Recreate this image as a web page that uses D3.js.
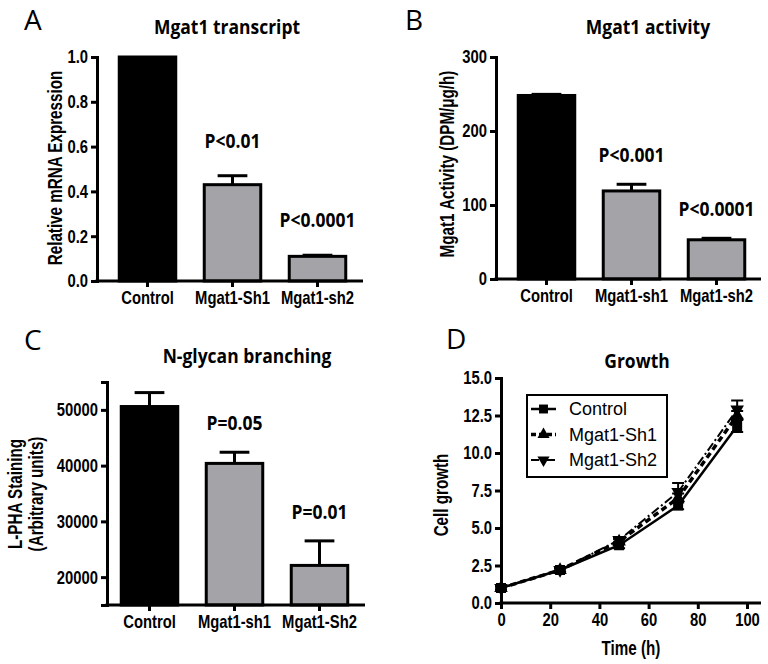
<!DOCTYPE html>
<html>
<head>
<meta charset="utf-8">
<script src="https://cdn.jsdelivr.net/npm/d3@7"></script>
<style>
  body { margin: 0; background: #fff; }
  .narrow { font-family: "Liberation Sans", Arial, sans-serif; font-weight: bold; }
  .title { font-family: "Open Sans", "Noto Sans", sans-serif; font-weight: bold; }
  .letter { font-family: "Open Sans", "Noto Sans", sans-serif; }
</style>
</head>
<body>
<svg id="svg" width="768" height="664"></svg>
<script>
// A - transcript
const catsA = ["Control", "Mgat1-Sh1", "Mgat1-sh2"];
const meanA = [1.0, 0.43, 0.11];
const errA = [0, 0.04, 0.005];
const pA = ["", "P<0.01", "P<0.0001"];
// B - activity
const catsB = ["Control", "Mgat1-sh1", "Mgat1-sh2"];
const meanB = [248, 119, 53];
const errB = [1.5, 9, 2];
const pB = ["", "P<0.001", "P<0.0001"];
// C - branching
const catsC = ["Control", "Mgat1-sh1", "Mgat1-Sh2"];
const meanC = [50600, 40400, 22100];
const errC = [2500, 2000, 4400];
const pC = ["", "P=0.05", "P=0.01"];
// D - growth
const hours = [0, 24, 48, 72, 96];
const ctrlGrowth = [1.0, 2.2, 3.85, 6.5, 11.8];
const ctrlErr = [0.1, 0.1, 0.2, 0.25, 0.4];
const sh1Growth = [1.0, 2.2, 4.1, 7.0, 12.5];
const sh1Err = [0.1, 0.1, 0.15, 0.3, 0.3];
const sh2Growth = [1.0, 2.2, 4.2, 7.4, 12.9];
const sh2Err = [0.1, 0.1, 0.15, 0.6, 0.6];

const svg = d3.select("#svg");
const gray = "#a4a4a8";
const sq = 0.8;   // horizontal squeeze for tick labels (fake narrow font)
const asq = 0.78; // squeeze for axis titles
const tsq = 0.92; // squeeze for titles

function styleAxis(g, left) {
  g.selectAll("path, line").attr("stroke", "#000").attr("stroke-width", 3);
  const t = g.selectAll("text").attr("class", "narrow").attr("font-size", 18.5).attr("fill", "#000")
    .attr("transform", `scale(${sq},1)`);
  if (left) t.attr("x", -9 / sq);
}

function narrowText(parent, x, y, rot, txt) {
  return parent.append("text").attr("class", "narrow").attr("font-size", 19.5)
    .attr("text-anchor", "middle")
    .attr("transform", `translate(${x},${y}) rotate(${rot}) scale(${asq},1)`)
    .text(txt);
}

function titleText(parent, x, y, txt, size) {
  return parent.append("text").attr("class", "title").attr("font-size", size || 19)
    .attr("text-anchor", "middle")
    .attr("transform", `translate(${x},${y}) scale(${tsq},1)`)
    .text(txt);
}

function barPanel(p) {
  const y = d3.scaleLinear().domain(p.domain).range([p.yBot, p.yTop]);
  const x = d3.scaleBand().domain(p.cats)
    .range([p.x0 + p.inset, p.x0 + p.inset + 255])
    .paddingInner(0.3).paddingOuter(0.15);
  const g = svg.append("g");

  const bw = x.bandwidth();
  const data = p.cats.map((c, i) => ({ c, m: p.means[i], e: p.errs[i], p: p.pv[i] }));

  // error bars (upper only)
  data.forEach(d => {
    if (!d.e) return;
    const cx = x(d.c) + bw / 2;
    g.append("line").attr("x1", cx).attr("x2", cx)
      .attr("y1", y(d.m)).attr("y2", y(d.m + d.e))
      .attr("stroke", "#000").attr("stroke-width", 3);
    g.append("line").attr("x1", cx - bw / 4).attr("x2", cx + bw / 4)
      .attr("y1", y(d.m + d.e)).attr("y2", y(d.m + d.e))
      .attr("stroke", "#000").attr("stroke-width", 3);
  });

  g.selectAll("rect").data(data).enter().append("rect")
    .attr("x", d => x(d.c) + 1.5)
    .attr("width", bw - 3)
    .attr("y", d => y(d.m))
    .attr("height", d => p.yBot - y(d.m))
    .attr("fill", (d, i) => i === 0 ? "#000" : gray)
    .attr("stroke", "#000").attr("stroke-width", 3);

  data.filter(d => d.p).forEach(d => {
    titleText(g, x(d.c) + bw / 2, y(d.m + d.e) - p.pOff, d.p, 19);
  });

  const ya = g.append("g").attr("transform", `translate(${p.x0},0)`)
    .call(d3.axisLeft(y).tickValues(p.ticks).tickFormat(p.fmt).tickSizeOuter(0).tickSize(6).tickPadding(3));
  styleAxis(ya, true);

  const xa = g.append("g").attr("transform", `translate(0,${p.yBot})`)
    .call(d3.axisBottom(x).tickSizeOuter(0).tickSize(6).tickPadding(4));
  xa.select(".domain").remove();
  styleAxis(xa, false);
  g.append("line").attr("x1", p.x0 - 1.5).attr("x2", p.x1)
    .attr("y1", p.yBot).attr("y2", p.yBot)
    .attr("stroke", "#000").attr("stroke-width", 3);

  if (p.ytitle.length === 1) {
    narrowText(g, p.ytx, p.yty, -90, p.ytitle[0]).attr("dy", "0.35em");
  } else {
    p.ytitle.forEach((t, i) => {
      narrowText(g, p.ytx + (i - 0.5) * 21, p.yty, -90, t).attr("dy", "0.35em");
    });
  }

  titleText(g, p.tx, p.ty, p.title);
  g.append("text").attr("class", "letter").attr("font-size", 28)
    .attr("x", p.lx).attr("y", p.ly).text(p.letter);
}

barPanel({
  cats: catsA, means: meanA, errs: errA, pv: pA, domain: [0, 1], ticks: [0, 0.2, 0.4, 0.6, 0.8, 1.0],
  fmt: d3.format(".1f"), x0: 97, x1: 363, inset: 8, yTop: 57, yBot: 281, pOff: 28,
  ytitle: ["Relative mRNA Expression"], ytx: 55, yty: 168,
  title: "Mgat1 transcript", tx: 227, ty: 34, letter: "A", lx: 24, ly: 30
});
barPanel({
  cats: catsB, means: meanB, errs: errB, pv: pB, domain: [0, 300], ticks: [0, 100, 200, 300],
  fmt: d3.format("d"), x0: 496, x1: 761, inset: 8, yTop: 57, yBot: 279, pOff: 22,
  ytitle: ["Mgat1 Activity (DPM/\u03bcg/h)"], ytx: 447, yty: 164,
  title: "Mgat1 activity", tx: 648, ty: 34, letter: "B", lx: 405, ly: 30
});
barPanel({
  cats: catsC, means: meanC, errs: errC, pv: pC, domain: [15000, 55000], ticks: [20000, 30000, 40000, 50000],
  fmt: d3.format("d"), x0: 107, x1: 365, inset: 0, yTop: 382, yBot: 605, pOff: 22,
  ytitle: ["L-PHA Staining", "(Arbitrary units)"], ytx: 26, yty: 494,
  title: "N-glycan branching", tx: 247, ty: 363, letter: "C", lx: 24, ly: 350
});

// D - growth curves
(function () {
  const x0 = 501, xEnd = 761, yTop = 378, yBot = 603;
  const x = d3.scaleLinear().domain([0, 100]).range([x0, 747]);
  const y = d3.scaleLinear().domain([0, 15]).range([yBot, yTop]);
  const g = svg.append("g");

  const series = [
    { name: "Control", vals: ctrlGrowth, err: ctrlErr, dash: null, w: 2.5, sym: d3.symbolSquare, size: 100, rot: 0 },
    { name: "Mgat1-Sh1", vals: sh1Growth, err: sh1Err, dash: "6,4", w: 3.5, sym: d3.symbolTriangle, size: 80, rot: 0 },
    { name: "Mgat1-Sh2", vals: sh2Growth, err: sh2Err, dash: "9,3,2,3", w: 2, sym: d3.symbolTriangle, size: 80, rot: 180 }
  ];
  const line = d3.line().x((d, i) => x(hours[i])).y(d => y(d));

  series.forEach(s => {
    g.append("path").datum(s.vals).attr("d", line)
      .attr("fill", "none").attr("stroke", "#000").attr("stroke-width", s.w)
      .attr("stroke-dasharray", s.dash);
    s.vals.forEach((v, i) => {
      const cx = x(hours[i]);
      g.append("line").attr("x1", cx).attr("x2", cx).attr("y1", y(v - s.err[i])).attr("y2", y(v + s.err[i]))
        .attr("stroke", "#000").attr("stroke-width", 2);
      [v - s.err[i], v + s.err[i]].forEach(e => {
        g.append("line").attr("x1", cx - 6).attr("x2", cx + 6).attr("y1", y(e)).attr("y2", y(e))
          .attr("stroke", "#000").attr("stroke-width", 2);
      });
      g.append("path").attr("d", d3.symbol(s.sym, s.size)())
        .attr("transform", `translate(${cx},${y(v)}) rotate(${s.rot})`).attr("fill", "#000");
    });
  });

  const ya = g.append("g").attr("transform", `translate(${x0},0)`)
    .call(d3.axisLeft(y).tickValues([0, 2.5, 5, 7.5, 10, 12.5, 15]).tickFormat(d3.format(".1f")).tickSizeOuter(0).tickSize(6).tickPadding(3));
  styleAxis(ya, true);
  const xa = g.append("g").attr("transform", `translate(0,${yBot})`)
    .call(d3.axisBottom(x).tickValues([0, 20, 40, 60, 80, 100]).tickFormat(d3.format("d")).tickSizeOuter(0).tickSize(6).tickPadding(4));
  xa.select(".domain").remove();
  styleAxis(xa, false);
  g.append("line").attr("x1", x0 - 1.5).attr("x2", xEnd).attr("y1", yBot).attr("y2", yBot)
    .attr("stroke", "#000").attr("stroke-width", 3);

  narrowText(g, 631, 655, 0, "Time (h)");
  narrowText(g, 441, 495, -90, "Cell growth").attr("dy", "0.35em");
  titleText(g, 637, 368, "Growth");
  g.append("text").attr("class", "letter").attr("font-size", 28).attr("x", 446).attr("y", 349).text("D");

  // legend
  const lg = g.append("g");
  lg.append("rect").attr("x", 527).attr("y", 395).attr("width", 140).attr("height", 82)
    .attr("fill", "#fff").attr("stroke", "#000").attr("stroke-width", 2);
  series.forEach((s, i) => {
    const ly = 409 + i * 25.5;
    lg.append("line").attr("x1", 531).attr("x2", 556).attr("y1", ly).attr("y2", ly)
      .attr("stroke", "#000").attr("stroke-width", s.w).attr("stroke-dasharray", s.dash ? (i === 1 ? "5,3" : "8,3,2,3") : null);
    lg.append("path").attr("d", d3.symbol(s.sym, s.size * 0.8)())
      .attr("transform", `translate(543.5,${ly}) rotate(${s.rot})`).attr("fill", "#000");
    lg.append("text").attr("x", 569).attr("y", ly).attr("dy", "0.35em")
      .attr("font-family", "Liberation Sans, Arial, sans-serif").attr("font-size", 18).text(s.name);
  });
})();
</script>
</body>
</html>
